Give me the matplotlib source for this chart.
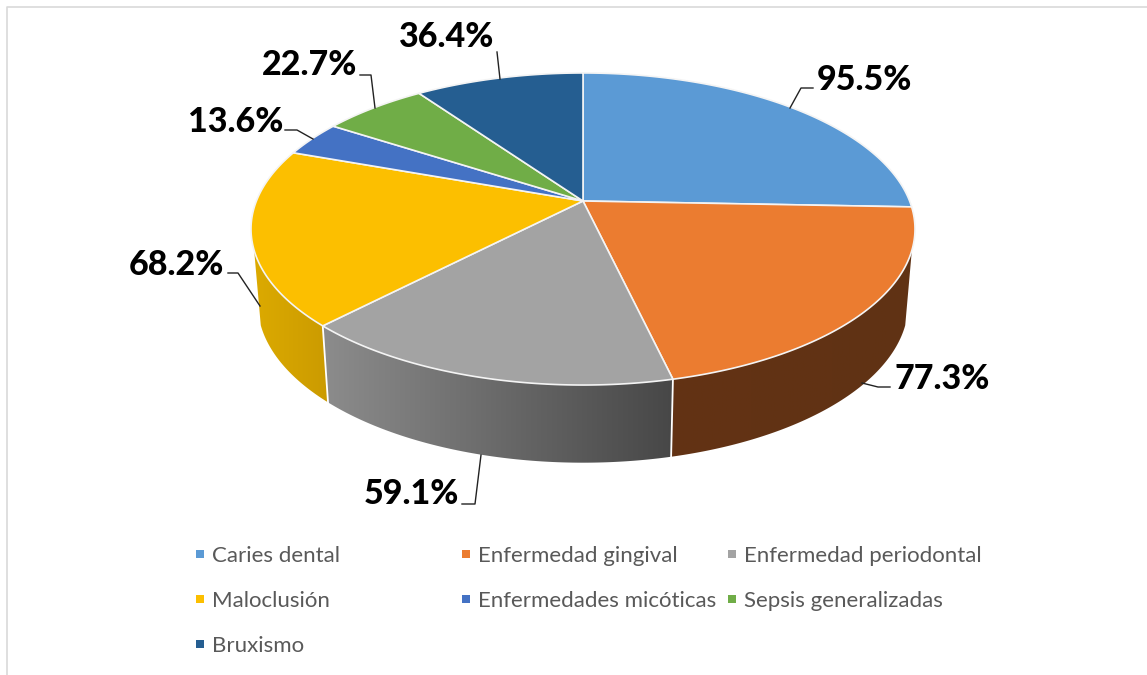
import matplotlib
matplotlib.use('Agg')
import matplotlib.pyplot as plt
from matplotlib.colors import LinearSegmentedColormap
from matplotlib.patches import Polygon
import numpy as np

plt.rcParams['font.family'] = ['Lato', 'DejaVu Sans']

categories = ['Caries dental', 'Enfermedad gingival', 'Enfermedad periodontal', 'Maloclusión',
              'Enfermedades micóticas', 'Sepsis generalizadas', 'Bruxismo']
values = [95.5, 77.3, 59.1, 68.2, 13.6, 22.7, 36.4]
labels = ['95.5%', '77.3%', '59.1%', '68.2%', '13.6%', '22.7%', '36.4%']
colors = ['#5b9ad5', '#eb7c30', '#a3a3a3', '#fcbf00', '#4472c4', '#70ad47', '#255e91']
# side shading, left to right across the whole rim
side_colors = {1: ('#633314', '#603214'), 2: ('#8c8c8c', '#474747'), 3: ('#dcaa00', '#cb9b00')}

# label anchor (left edge, centre y) and leader line, pixels
label_pos = [(817, 80), (895, 379), (364, 494), (129, 265), (188, 122), (262, 65), (399, 37)]
leaders = [
    [(790, 108), (801, 88), (813, 88)],
    [(862, 383), (878, 387), (890, 387)],
    [(481, 455), (475, 504), (462, 504)],
    [(260, 306), (238, 273), (228, 273)],
    [(313, 139), (297, 130), (285, 130)],
    [(375, 108), (371, 75), (360, 75)],
    [(500, 79), (497, 52)],
]

legend_x = [200, 466, 732]
legend_y = [554, 599, 644]

# perspective of the disc
cx = 583
persp = 0.1795
top_y, top_a, top_c = 201, 151, 326.6
low_y, low_a, low_c = 275, 154, 320
side_from, side_to = 108, 252


def project(t, y0, a, c):
    rad = np.radians(t)
    X, Y = np.sin(rad), np.cos(rad)
    w = 1 + persp * Y
    return cx + c * X / w, y0 - a * Y / w


fig = plt.figure(figsize=(11.47, 6.75), dpi=100)
ax = fig.add_axes([0, 0, 1, 1])
ax.set_xlim(0, 1147)
ax.set_ylim(675, 0)
ax.axis('off')

ax.plot([7, 7, 1147], [675, 7, 7], color='#d9d9d9', lw=1.2)

edges = np.concatenate([[0], np.cumsum(values)]) / sum(values) * 360

# rim first
for i in range(len(values)):
    t0 = max(edges[i], side_from)
    t1 = min(edges[i + 1], side_to)
    if t1 <= t0:
        continue
    ts = np.linspace(t0, t1, 120)
    xt, yt = project(ts, top_y, top_a, top_c)
    xb, yb = project(ts, low_y, low_a, low_c)
    pts = np.column_stack([np.concatenate([xt, xb[::-1]]), np.concatenate([yt, yb[::-1]])])
    poly = Polygon(pts, closed=True, facecolor='none', edgecolor='none')
    ax.add_patch(poly)
    cmap = LinearSegmentedColormap.from_list('side', side_colors[i])
    grad = np.linspace(0, 1, 256).reshape(1, -1)
    im = ax.imshow(grad, cmap=cmap, aspect='auto', zorder=2,
                   extent=[pts[:, 0].min(), pts[:, 0].max(), pts[:, 1].max(), pts[:, 1].min()])
    im.set_clip_path(poly)
    if edges[i] >= side_from:
        ax.plot([xt[0], xb[0]], [yt[0], yb[0]], color='white', lw=1.3, zorder=3)
ax.set_xlim(0, 1147)
ax.set_ylim(675, 0)

# top face
for i in range(len(values)):
    ts = np.linspace(edges[i], edges[i + 1], 200)
    x, y = project(ts, top_y, top_a, top_c)
    pts = np.column_stack([np.r_[cx, x], np.r_[top_y, y]])
    ax.add_patch(Polygon(pts, closed=True, facecolor=colors[i], edgecolor='#f4f4f4', lw=1.2,
                         joinstyle='round', zorder=4))

for i, txt in enumerate(labels):
    ax.text(label_pos[i][0], label_pos[i][1], txt, fontsize=24.5, fontweight='black',
            color='black', ha='left', va='center', zorder=6)
    ax.plot([p[0] for p in leaders[i]], [p[1] for p in leaders[i]], color='#222222', lw=1.0, zorder=5)

for i, name in enumerate(categories):
    lx = legend_x[i % 3]
    ly = legend_y[i // 3]
    ax.scatter([lx], [ly], marker='s', s=33, color=colors[i], linewidths=0, zorder=6)
    ax.text(lx + 12, ly + 2, name, fontsize=16, color='#595959', ha='left', va='center', zorder=6)

fig.savefig('out.png', dpi=100)
plt.close(fig)
